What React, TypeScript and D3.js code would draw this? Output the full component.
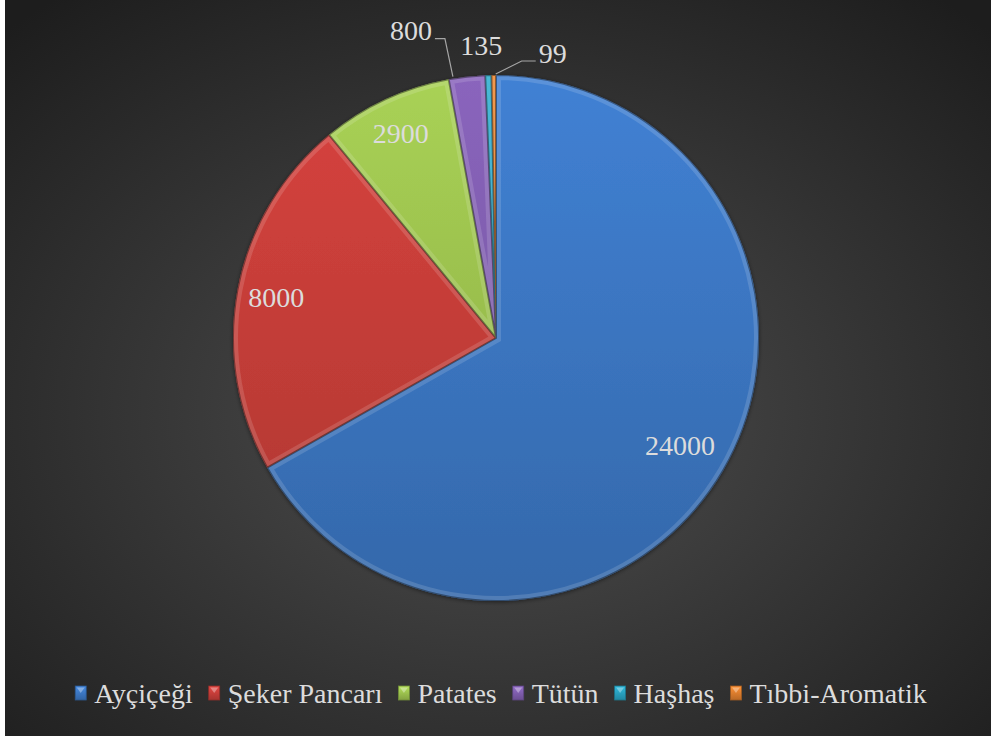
import React from 'react';
import * as d3 from 'd3';

// Chart data
const categories = ['Ayçiçeği', 'Şeker Pancarı', 'Patates', 'Tütün', 'Haşhaş', 'Tıbbi-Aromatik'];
const values = [24000, 8000, 2900, 800, 135, 99];
const colors = ['#3e7ccb', '#cf403b', '#a2c951', '#8461b5', '#2aa7c7', '#e5822f'];

const W = 991;
const H = 736;
const FONT = 'Liberation Serif';
const FS = 28;
const TEXT = '#dcdcdc';
const LEADER = '#a6a6a6';

const measure = (() => {
  const ctx = document.createElement('canvas').getContext('2d')!;
  ctx.font = `${FS}px "${FONT}"`;
  return (s: string) => ctx.measureText(s).width;
})();

const App = () => {
  document.body.style.margin = '0';

  const cx = 496;
  const cy = 338;
  const R = 263;

  const arcs = d3.pie<number>().sort(null).value(d => d)(values);
  const arc = d3.arc<d3.PieArcDatum<number>>().innerRadius(0).outerRadius(R);
  const at = (a: d3.PieArcDatum<number>, r: number): [number, number] => {
    const mid = (a.startAngle + a.endAngle) / 2;
    return [Math.sin(mid) * r, -Math.cos(mid) * r];
  };

  const shade = (c: string, k: number) =>
    (k >= 0 ? d3.color(c)!.brighter(k) : d3.color(c)!.darker(-k)).formatHex();

  // inside labels (big slices)
  const insideR = [0.81, 0.85, 0.86];

  // outside labels (small slices)
  const [tx, ty] = at(arcs[3], R);
  const [hx, hy] = at(arcs[4], R);
  const [ax, ay] = at(arcs[5], R);
  const line = d3.line();

  // legend layout
  const legendY = 693;
  const mW = 11;
  const mH = 14;
  const gapMT = 8;
  const gapItems = 16;
  const widths = categories.map(c => mW + gapMT + measure(c));
  const total = d3.sum(widths) + gapItems * (categories.length - 1);
  const starts: number[] = [];
  let x = 501 - total / 2;
  widths.forEach(w => { starts.push(x); x += w + gapItems; });

  return (
    <svg width={W} height={H} style={{ display: 'block' }}>
      <defs>
        <radialGradient id="bg" cx="50%" cy="56%" r="72%">
          <stop offset="0%" stopColor="#4f4f4f" />
          <stop offset="100%" stopColor="#1d1d1d" />
        </radialGradient>
        {colors.map((c, i) => (
          <linearGradient key={`sg${i}`} id={`sg${i}`} gradientUnits="userSpaceOnUse" x1={0} y1={-R} x2={0} y2={R}>
            <stop offset="0%" stopColor={shade(c, 0.12)} />
            <stop offset="100%" stopColor={shade(c, -0.5)} />
          </linearGradient>
        ))}
        {colors.map((c, i) => (
          <linearGradient key={`lg${i}`} id={`lg${i}`} x1={0} y1={0} x2={0} y2={1}>
            <stop offset="0%" stopColor={shade(c, 0.3)} />
            <stop offset="100%" stopColor={shade(c, -0.6)} />
          </linearGradient>
        ))}
        {arcs.map((a, i) => (
          <clipPath key={`clip${i}`} id={`clip${i}`}>
            <path d={arc(a) as string} />
          </clipPath>
        ))}
        <filter id="shadow" x="-10%" y="-10%" width="120%" height="120%">
          <feDropShadow dx={0} dy={1} stdDeviation={2} floodColor="#000" floodOpacity={0.5} />
        </filter>
      </defs>

      <rect width={W} height={H} fill="#ffffff" />
      <rect x={5} width={W - 5} height={H} fill="url(#bg)" />

      <g transform={`translate(${cx},${cy})`}>
        <g filter="url(#shadow)">
          {arcs.map((a, i) => (
            <path key={i} d={arc(a) as string} fill={`url(#sg${i})`} />
          ))}
        </g>
        {/* bevel edges */}
        {arcs.map((a, i) => (
          <g key={`bv${i}`} clipPath={`url(#clip${i})`}>
            <path d={arc(a) as string} fill="none" stroke="#ffffff" strokeOpacity={0.14} strokeWidth={10} />
            <path d={arc(a) as string} fill="none" stroke="#000000" strokeOpacity={0.4} strokeWidth={2} />
          </g>
        ))}

        {arcs.slice(0, 3).map((a, i) => {
          const [lx, ly] = at(a, R * insideR[i]);
          return (
            <text key={`lb${i}`} x={lx} y={ly} dy="0.35em" textAnchor="middle"
              fontFamily={FONT} fontSize={FS} fill={TEXT}>{values[i]}</text>
          );
        })}

        {/* Tütün */}
        <path d={line([[tx - 14, ty], [tx - 22, ty - 38], [tx - 32, ty - 38]]) as string}
          fill="none" stroke={LEADER} strokeWidth={1.2} />
        <text x={tx - 35} y={ty - 46} dy="0.35em" textAnchor="end"
          fontFamily={FONT} fontSize={FS} fill={TEXT}>{values[3]}</text>

        {/* Haşhaş */}
        <text x={hx - 7} y={hy - 30} dy="0.35em" textAnchor="middle"
          fontFamily={FONT} fontSize={FS} fill={TEXT}>{values[4]}</text>

        {/* Tıbbi-Aromatik */}
        <path d={line([[ax + 2, ay - 1], [ax + 28, ay - 14], [ax + 42, ay - 14]]) as string}
          fill="none" stroke={LEADER} strokeWidth={1.2} />
        <text x={ax + 45} y={ay - 22} dy="0.35em" textAnchor="start"
          fontFamily={FONT} fontSize={FS} fill={TEXT}>{values[5]}</text>
      </g>

      <g>
        {categories.map((c, i) => (
          <g key={c} transform={`translate(${starts[i]},0)`}>
            <rect x={0} y={legendY - mH / 2} width={mW} height={mH} fill={`url(#lg${i})`}
              stroke={shade(colors[i], -1)} strokeWidth={0.8} />
            <path d={`M1.5,${legendY - mH / 2 + 1.5}L${mW - 1.5},${legendY - mH / 2 + 1.5}L${mW / 2},${legendY}Z`}
              fill="#ffffff" fillOpacity={0.35} />
            <text x={mW + gapMT} y={legendY} dy="0.35em" fontFamily={FONT} fontSize={FS} fill={TEXT}>{c}</text>
          </g>
        ))}
      </g>
    </svg>
  );
};

export default App;
